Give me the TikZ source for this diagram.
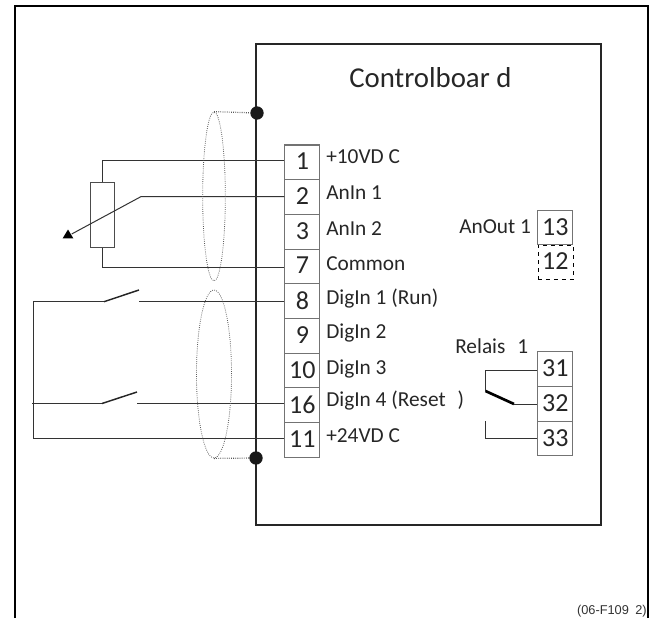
\documentclass[tikz,border=0pt]{standalone}
\usepackage{fontspec}
\setmainfont{Carlito}
\newfontfamily\capfont{Liberation Sans}
\usetikzlibrary{shapes.geometric}
\tikzset{
 px/.style={x=0.75pt,y=-0.75pt},
 wire/.style={line width=0.75pt,draw=black!80},
 frameline/.style={line width=1.8pt,draw=black},
 board/.style={line width=1.4pt,draw=black!85},
 shield/.style={line width=0.6pt,draw=black!65,densely dotted},
 term/.style={draw=black!55,line width=0.8pt,minimum width=26.3pt,minimum height=26pt,inner sep=0pt,font=\fontsize{19.5}{19.5}\selectfont,text=black!85},
 termd/.style={term,draw=black,dashed,line width=0.5pt},
 lab/.style={anchor=base west,inner sep=0pt,font=\fontsize{16}{17}\selectfont,text=black!85},
 dot/.style={circle,fill=black!90,minimum size=10pt,inner sep=0pt},
 blade/.style={line width=1.1pt,draw=black!85},
}
\begin{document}
\begin{tikzpicture}[px]
\useasboundingbox (0,0) rectangle (649,618);
\draw[frameline] (15,618) -- (15,6) -- (647.8,6) -- (647.8,618);
\draw[board] (256,44) rectangle (601,525);
\node[lab,font=\fontsize{21.6}{22}\selectfont] (title) at (349,87) {Controlboar d};
% terminals
\foreach \n/\t/\y in {t1/1/162.3,t2/2/197,t3/3/231.7,t7/7/266.4,t8/8/301.1,t9/9/335.8,t10/10/370.5,t16/16/405.2,t11/11/439.9}
  \node[term,text depth=0pt] (\n) at (302.4,\y) {\raisebox{1.2pt}{\t}};
\node[term] (t13) at (555.4,227.5) {\raisebox{1.2pt}{13}\hspace{3pt}};
\node[termd] (t12) at (555.4,262.3) {\raisebox{1.2pt}{12}\hspace{3pt}};
\node[term] (t31) at (555.4,369.2) {\raisebox{1.2pt}{31}};
\node[term] (t32) at (555.4,403.9) {\raisebox{1.2pt}{32}};
\node[term] (t33) at (555.4,438.6) {\raisebox{1.2pt}{33}};
% labels
\foreach \n/\t/\y in {l1/{+10VD C}/163.5,l2/{AnIn 1}/199,l3/{AnIn 2}/235,l7/{Common}/270,l8/{DigIn 1 (Run)}/304,l9/{DigIn 2}/338,l10/{DigIn 3}/374,l16/{DigIn 4 (Reset\,\, )}/406,l11/{+24VD C}/442}
  \node[lab] (\n) at (326,\y) {\t};
\node[lab] (anout) at (459,233) {AnOut 1};
\node[lab] (relais) at (455,353) {Relais\,\, 1};
% pot
\node[draw=black!70,line width=0.7pt,minimum width=17.5pt,minimum height=48.5pt,inner sep=0pt] (pot) at (102.3,215.2) {};
\coordinate (p1) at (pot.north |- 0,160.7);
\coordinate (p7) at (pot.south |- 0,267.7);
\coordinate (wiper) at (141,196.6);
\coordinate (tip) at (71.7,234);
\draw[wire] (pot.north) -- (p1) -- (p1 -| t1.west);
\draw[wire] (pot.south) -- (p7) -- (p7 -| t7.west);
\draw[wire] (wiper -| t2.west) -- (wiper) -- (tip);
\fill[black] (68,229.5) -- (62.7,238.3) -- (73.3,238.3) -- cycle;
% switches
\coordinate (a1) at (104,301.7); \coordinate (b1) at (139,290); \coordinate (c1) at (139,301.7);
\coordinate (a2) at (102,403.5); \coordinate (b2) at (137,392); \coordinate (c2) at (137,403.5);
\coordinate (l1c) at (33,301.7); \coordinate (l2c) at (32,403.5); \coordinate (l3c) at (33,438.7);
\draw[wire] (c1 -| t8.west) -- (c1);
\draw[wire] (a1) -- (l1c) -- (l3c) -- (l3c -| t11.west);
\draw[wire] (c2 -| t16.west) -- (c2);
\draw[wire] (a2) -- (l2c);
\draw[blade] (a1) -- (b1);
\draw[blade] (a2) -- (b2);
% shields
\node[draw,shield,ellipse,minimum width=17pt,minimum height=126.7pt,inner sep=0pt] (s1) at (214,196.5) {};
\node[draw,shield,ellipse,minimum width=26.3pt,minimum height=126pt,inner sep=0pt] (s2) at (214,374) {};
\node[dot] (d1) at (257,113) {};
\node[dot] (d2) at (256,458) {};
\draw[shield,line width=0.9pt] (s1.north) -- (d1);
\draw[shield,line width=0.9pt] (s2.south) -- (d2);
% relay
\coordinate (r1) at (485.5,370); \coordinate (r2) at (485.5,391); \coordinate (r3) at (514,404);
\coordinate (r4) at (485.5,421); \coordinate (r5) at (485.5,438.6);
\draw[wire] (r1 -| t31.west) -- (r1) -- (r2);
\draw[line width=2pt,draw=black] (r2) -- (r3);
\draw[wire] (r3) -- (r3 -| t32.west);
\draw[wire] (r4) -- (r5) -- (r5 -| t33.west);
\node[anchor=base east,inner sep=0pt,font=\capfont\fontsize{9.6}{10}\selectfont,text=black!80] (code) at (647,614.5) {(06-F109\,\,\,2)};
\end{tikzpicture}
\end{document}
